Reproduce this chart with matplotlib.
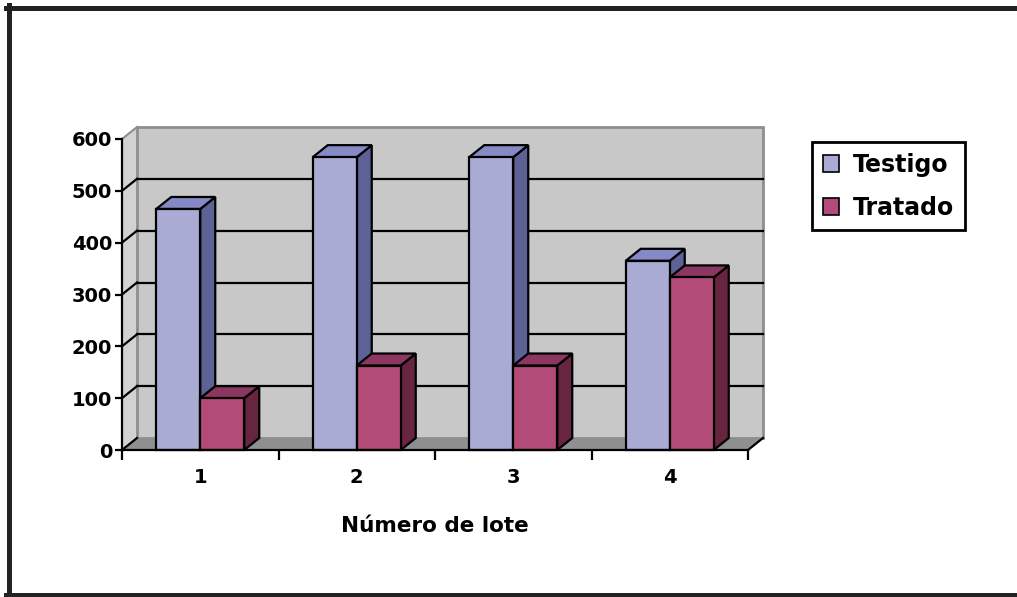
import matplotlib
matplotlib.use("Agg")
import matplotlib.pyplot as plt
from matplotlib.patches import Rectangle, Polygon, Patch
from matplotlib.lines import Line2D

# data
lotes = ["1", "2", "3", "4"]
testigo = [465, 565, 565, 365]
tratado = [100, 163, 163, 333]
yticks = [0, 100, 200, 300, 400, 500, 600]
series = ["Testigo", "Tratado"]

# colours: front, top, side
COLS = {
    "Testigo": ("#a9abd5", "#8589c6", "#5e6196"),
    "Tratado": ("#b24b77", "#8c3762", "#67253f"),
}

W, H = 1017, 597
fig = plt.figure(figsize=(W / 100, H / 100), dpi=100)
fig.patch.set_facecolor("white")

# front plane of the plot area in pixels
x0, x1, y0, y1 = 122, 748, 450, 139
ax = fig.add_axes([x0 / W, 1 - y0 / H, (x1 - x0) / W, (y0 - y1) / H])
ax.set_xlim(-0.5, len(lotes) - 0.5)
ax.set_ylim(0, 600)
ax.set_facecolor("none")

px_x = (len(lotes)) / (x1 - x0)   # data units per pixel
px_y = 600 / (y0 - y1)
DX, DY = 15 * px_x, 12 * px_y     # depth offset
xl, xr = -0.5, len(lotes) - 0.5

# floor, side wall, back wall
ax.add_patch(Polygon([(xl, 0), (xr, 0), (xr + DX, DY), (xl + DX, DY)],
                     closed=True, fc="#8f8f8f", ec="none", clip_on=False, zorder=0))
ax.add_patch(Polygon([(xl, 0), (xl + DX, DY), (xl + DX, 600 + DY), (xl, 600)],
                     closed=True, fc="#d2d2d2", ec="none", clip_on=False, zorder=0))
ax.add_patch(Rectangle((xl + DX, DY), xr - xl, 600, fc="#c8c8c8", ec="#8e8e8e",
                       lw=2, clip_on=False, zorder=0))
ax.plot([xl, xl + DX], [600, 600 + DY], color="#8e8e8e", lw=1.5, clip_on=False, zorder=1)
for v in yticks[:-1]:
    if v > 0:
        ax.plot([xl + DX, xr + DX], [v + DY, v + DY], color="black", lw=1.6,
                clip_on=False, zorder=1)
    ax.plot([xl, xl + DX], [v, v + DY], color="black", lw=1.6, clip_on=False, zorder=1)
ax.plot([xr, xr + DX], [0, DY], color="black", lw=1.6, clip_on=False, zorder=1)

# 3D bars
bw = 44 * px_x
for s_i, (name, vals) in enumerate(zip(series, [testigo, tratado])):
    front, top, side = COLS[name]
    for i, v in enumerate(vals):
        left = i - bw + s_i * bw
        right = left + bw
        kw = dict(closed=True, ec="black", lw=1.6, clip_on=False, zorder=3)
        ax.add_patch(Polygon([(right, 0), (right + DX, DY), (right + DX, v + DY), (right, v)],
                             fc=side, **kw))
        ax.add_patch(Polygon([(left, v), (right, v), (right + DX, v + DY), (left + DX, v + DY)],
                             fc=top, **kw))
        ax.add_patch(Polygon([(left, 0), (right, 0), (right, v), (left, v)], fc=front, **kw))

# axes
for sp in ["top", "right"]:
    ax.spines[sp].set_visible(False)
for sp in ["left", "bottom"]:
    ax.spines[sp].set_linewidth(1.6)
    ax.spines[sp].set_zorder(4)
ax.set_yticks(yticks)
ax.set_yticklabels([str(t) for t in yticks], fontsize=14, fontweight="bold")
ax.tick_params(axis="y", length=5, width=1.6, pad=2)
ax.set_xticks(range(len(lotes)))
ax.set_xticklabels(lotes, fontsize=14, fontweight="bold")
ax.set_xticks([i - 0.5 for i in range(len(lotes) + 1)], minor=True)
ax.tick_params(axis="x", which="major", length=0, pad=13)
ax.tick_params(axis="x", which="minor", length=7, width=1.6)
ax.set_xlabel("Número de lote", fontsize=15.5, fontweight="bold", labelpad=21)

# legend
handles = [Patch(fc=COLS[n][0], ec="black", lw=1.2) for n in series]
leg = fig.legend(handles, series, loc="upper left",
                 bbox_to_anchor=(812 / W, 1 - 142 / H),
                 prop={"size": 17, "weight": "bold"},
                 handlelength=0.7, handleheight=0.7, handletextpad=0.6,
                 labelspacing=0.8, borderpad=0.45, borderaxespad=0,
                 fancybox=False, framealpha=1)
leg.get_frame().set_edgecolor("black")
leg.get_frame().set_linewidth(2)

# outer frame (top, left, bottom)
fc = "#222222"
fig.add_artist(Line2D([6 / W, 1], [1 - 7.5 / H, 1 - 7.5 / H], color=fc, lw=3.6,
                      transform=fig.transFigure))
fig.add_artist(Line2D([8.5 / W, 8.5 / W], [1 - 5 / H, 2 / H], color=fc, lw=3.6,
                      transform=fig.transFigure))
fig.add_artist(Line2D([6 / W, 1], [2 / H, 2 / H], color=fc, lw=3.6,
                      transform=fig.transFigure))

fig.savefig("out.png", dpi=100)
